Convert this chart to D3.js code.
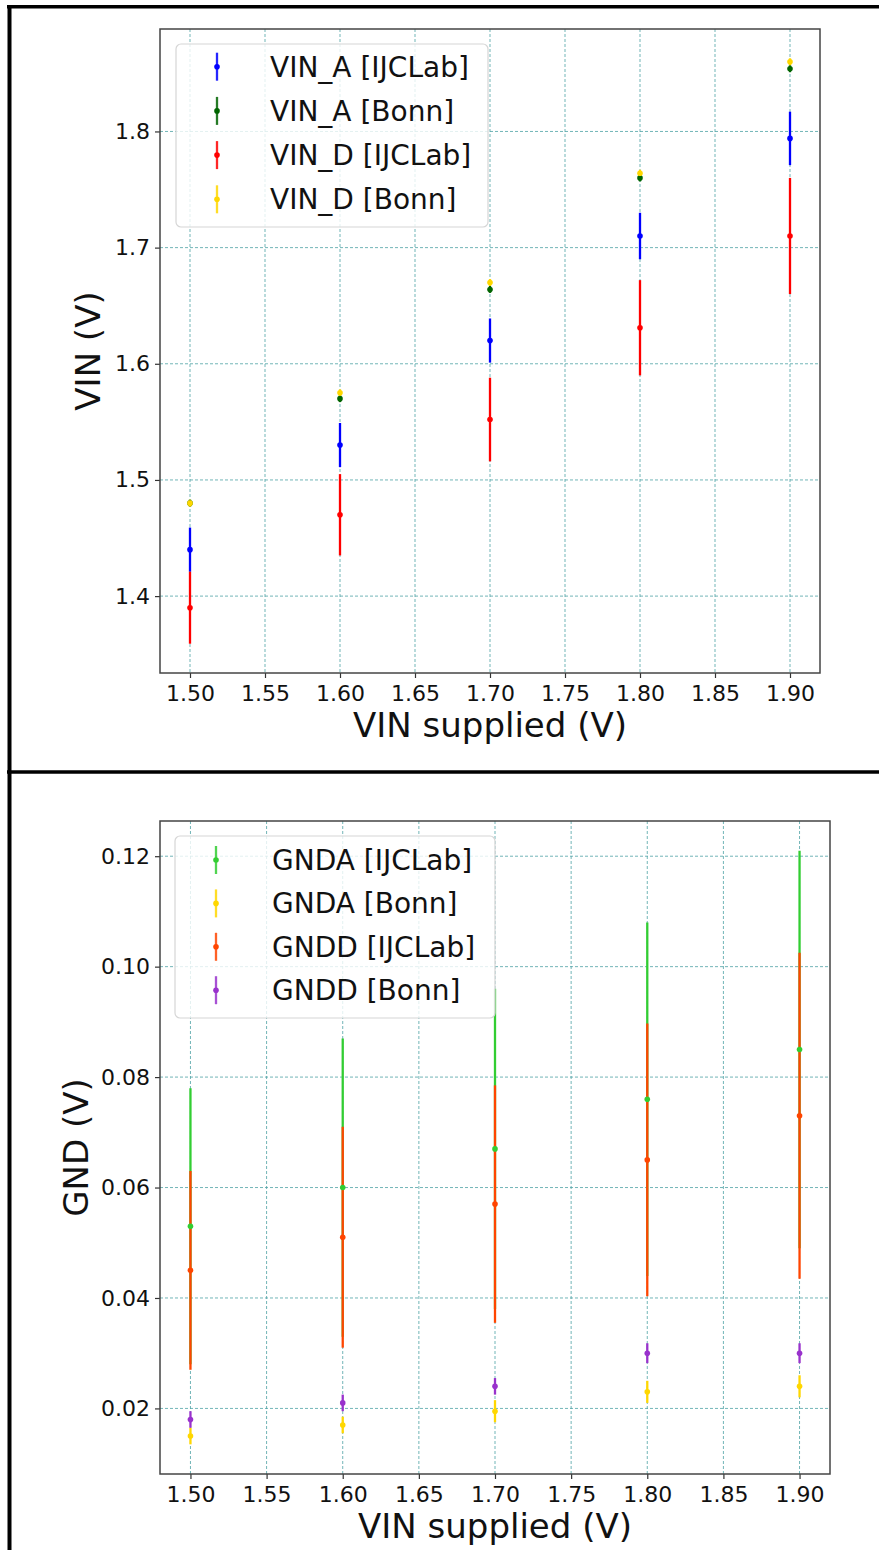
<!DOCTYPE html>
<html>
<head>
<meta charset="utf-8">
<script src="https://cdn.jsdelivr.net/npm/d3@7"></script>
<style>
	body { margin: 0; background: #fff; }
	svg { display: block; font-family: "DejaVu Sans", sans-serif; }
</style>
</head>
<body>
<svg id="chart" width="879" height="1550"></svg>
<script>
(function() {

	// x values shared by both panels
	var vinSupplied = [1.50, 1.60, 1.70, 1.80, 1.90];
	var xTicks = [1.50, 1.55, 1.60, 1.65, 1.70, 1.75, 1.80, 1.85, 1.90];

	// top panel
	var vinAIjclab = [1.440, 1.530, 1.620, 1.710, 1.794];
	var vinAIjclabErr = [0.019, 0.019, 0.019, 0.020, 0.023];
	var vinABonn = [1.480, 1.570, 1.664, 1.760, 1.854];
	var vinABonnErr = [0.003, 0.003, 0.003, 0.003, 0.003];
	var vinDIjclab = [1.390, 1.470, 1.552, 1.631, 1.710];
	var vinDIjclabErr = [0.031, 0.035, 0.036, 0.041, 0.050];
	var vinDBonn = [1.480, 1.575, 1.670, 1.764, 1.860];
	var vinDBonnErr = [0.003, 0.003, 0.003, 0.003, 0.003];
	var vinTicks = [1.4, 1.5, 1.6, 1.7, 1.8];

	// bottom panel
	var gndAIjclab = [0.053, 0.060, 0.067, 0.076, 0.085];
	var gndAIjclabErr = [0.025, 0.027, 0.029, 0.032, 0.036];
	var gndABonn = [0.015, 0.017, 0.0195, 0.023, 0.024];
	var gndABonnErr = [0.0015, 0.0015, 0.002, 0.002, 0.002];
	var gndDIjclab = [0.045, 0.051, 0.057, 0.065, 0.073];
	var gndDIjclabErr = [0.018, 0.020, 0.0215, 0.0247, 0.0295];
	var gndDBonn = [0.018, 0.021, 0.024, 0.030, 0.030];
	var gndDBonnErr = [0.0015, 0.0015, 0.0015, 0.0018, 0.0018];
	var gndTicks = [0.02, 0.04, 0.06, 0.08, 0.10, 0.12];

	var svg = d3.select('#chart');
	var GRID_COLOR = '#4fa3a5';

	function series(name, color, values, errs) {
		return {name: name, color: color, values: values, errs: errs};
	}

	var topSeries = [
		series('VIN_A [IJCLab]', '#0000ff', vinAIjclab, vinAIjclabErr),
		series('VIN_A [Bonn]', '#006400', vinABonn, vinABonnErr),
		series('VIN_D [IJCLab]', '#ff0000', vinDIjclab, vinDIjclabErr),
		series('VIN_D [Bonn]', '#ffd700', vinDBonn, vinDBonnErr)
	];
	var bottomSeries = [
		series('GNDA [IJCLab]', '#32cd32', gndAIjclab, gndAIjclabErr),
		series('GNDA [Bonn]', '#ffd700', gndABonn, gndABonnErr),
		series('GNDD [IJCLab]', '#ff4500', gndDIjclab, gndDIjclabErr),
		series('GNDD [Bonn]', '#9932cc', gndDBonn, gndDBonnErr)
	];

	// outer frame of the figure
	svg.append('line').attr('x1', 9.5).attr('x2', 9.5).attr('y1', 5).attr('y2', 1550)
		.attr('stroke', '#000').attr('stroke-width', 4);
	svg.append('line').attr('x1', 7).attr('x2', 879).attr('y1', 6.8).attr('y2', 6.8)
		.attr('stroke', '#000').attr('stroke-width', 3.5);
	svg.append('line').attr('x1', 7).attr('x2', 879).attr('y1', 772).attr('y2', 772)
		.attr('stroke', '#000').attr('stroke-width', 3.5);

	drawPanel({
		left: 160, right: 820, top: 29, bottom: 673,
		series: topSeries, yTicks: vinTicks, yFormat: d3.format('.1f'),
		yLabel: 'VIN (V)', yLabelX: 88,
		legend: {x: 176, y: 44, w: 312, h: 183, rowY: 66.7, rowStep: 44.2, textX: 270}
	});

	drawPanel({
		left: 160, right: 830, top: 821, bottom: 1474,
		series: bottomSeries, yTicks: gndTicks, yFormat: d3.format('.2f'),
		yLabel: 'GND (V)', yLabelX: 76,
		legend: {x: 175, y: 836, w: 320, h: 182, rowY: 860, rowStep: 43.4, textX: 272}
	});

	function yExtent(list) {
		var lo = d3.min(list, function(s) { return d3.min(s.values, function(v, i) { return v - s.errs[i]; }); });
		var hi = d3.max(list, function(s) { return d3.max(s.values, function(v, i) { return v + s.errs[i]; }); });
		var pad = (hi - lo) * 0.05;
		return [lo - pad, hi + pad];
	}

	function drawPanel(opts) {
		var xPad = (d3.max(vinSupplied) - d3.min(vinSupplied)) * 0.05;
		var x = d3.scaleLinear()
			.domain([d3.min(vinSupplied) - xPad, d3.max(vinSupplied) + xPad])
			.range([opts.left, opts.right]);
		var y = d3.scaleLinear().domain(yExtent(opts.series)).range([opts.bottom, opts.top]);
		var g = svg.append('g');

		// dashed grid
		g.append('g').selectAll('line').data(xTicks).join('line')
			.attr('x1', function(d) { return x(d); }).attr('x2', function(d) { return x(d); })
			.attr('y1', opts.top).attr('y2', opts.bottom)
			.attr('stroke', GRID_COLOR).attr('stroke-opacity', 0.8)
			.attr('stroke-width', 1).attr('stroke-dasharray', '3,2');
		g.append('g').selectAll('line').data(opts.yTicks).join('line')
			.attr('y1', function(d) { return y(d); }).attr('y2', function(d) { return y(d); })
			.attr('x1', opts.left).attr('x2', opts.right)
			.attr('stroke', GRID_COLOR).attr('stroke-opacity', 0.8)
			.attr('stroke-width', 1).attr('stroke-dasharray', '3,2');

		// error bars first, markers on top
		opts.series.forEach(function(s) {
			g.append('g').selectAll('line').data(vinSupplied).join('line')
				.attr('x1', function(d) { return x(d); }).attr('x2', function(d) { return x(d); })
				.attr('y1', function(d, i) { return y(s.values[i] - s.errs[i]); })
				.attr('y2', function(d, i) { return y(s.values[i] + s.errs[i]); })
				.attr('stroke', s.color).attr('stroke-width', 2.3);
		});
		opts.series.forEach(function(s) {
			g.append('g').selectAll('circle').data(vinSupplied).join('circle')
				.attr('cx', function(d) { return x(d); })
				.attr('cy', function(d, i) { return y(s.values[i]); })
				.attr('r', 2.8).attr('fill', s.color);
		});

		// axes
		var xAxis = g.append('g').attr('transform', 'translate(0,' + opts.bottom + ')')
			.call(d3.axisBottom(x).tickValues(xTicks).tickFormat(d3.format('.2f')).tickSizeOuter(0).tickSize(5).tickPadding(7));
		var yAxis = g.append('g').attr('transform', 'translate(' + opts.left + ',0)')
			.call(d3.axisLeft(y).tickValues(opts.yTicks).tickFormat(opts.yFormat).tickSizeOuter(0).tickSize(5).tickPadding(5));
		[xAxis, yAxis].forEach(function(a) {
			a.select('.domain').remove();
			a.selectAll('.tick line').attr('stroke', '#333').attr('stroke-width', 1.2);
			a.selectAll('.tick text').attr('fill', '#111').style('font-size', '22px')
				.style('font-family', '"DejaVu Sans", sans-serif');
		});
		g.append('rect')
			.attr('x', opts.left).attr('y', opts.top)
			.attr('width', opts.right - opts.left).attr('height', opts.bottom - opts.top)
			.attr('fill', 'none').attr('stroke', '#444').attr('stroke-width', 1.5);

		g.append('text')
			.attr('x', (opts.left + opts.right) / 2).attr('y', opts.bottom + 64)
			.attr('text-anchor', 'middle').attr('fill', '#111')
			.style('font-size', '34px').text('VIN supplied (V)');
		g.append('text')
			.attr('transform', 'translate(' + opts.yLabelX + ',' + ((opts.top + opts.bottom) / 2) + ') rotate(-90)')
			.attr('text-anchor', 'middle').attr('dy', '0.35em').attr('fill', '#111')
			.style('font-size', '34px').text(opts.yLabel);

		drawLegend(g, opts.series, opts.legend);
	}

	function drawLegend(g, list, L) {
		var lg = g.append('g');
		lg.append('rect')
			.attr('x', L.x).attr('y', L.y).attr('width', L.w).attr('height', L.h)
			.attr('rx', 5).attr('fill', '#fff').attr('fill-opacity', 0.8)
			.attr('stroke', '#d6d6d6').attr('stroke-width', 1.2);
		var handleX = L.x + 41;
		list.forEach(function(s, i) {
			var cy = L.rowY + i * L.rowStep;
			lg.append('line')
				.attr('x1', handleX).attr('x2', handleX).attr('y1', cy - 14).attr('y2', cy + 14)
				.attr('stroke', s.color).attr('stroke-width', 2.3).attr('stroke-opacity', 0.85);
			lg.append('circle').attr('cx', handleX).attr('cy', cy).attr('r', 2.8).attr('fill', s.color);
			lg.append('text')
				.attr('x', L.textX).attr('y', cy).attr('dy', '0.36em').attr('fill', '#111')
				.style('font-size', '28px').text(s.name);
		});
	}
}());
</script>
</body>
</html>
